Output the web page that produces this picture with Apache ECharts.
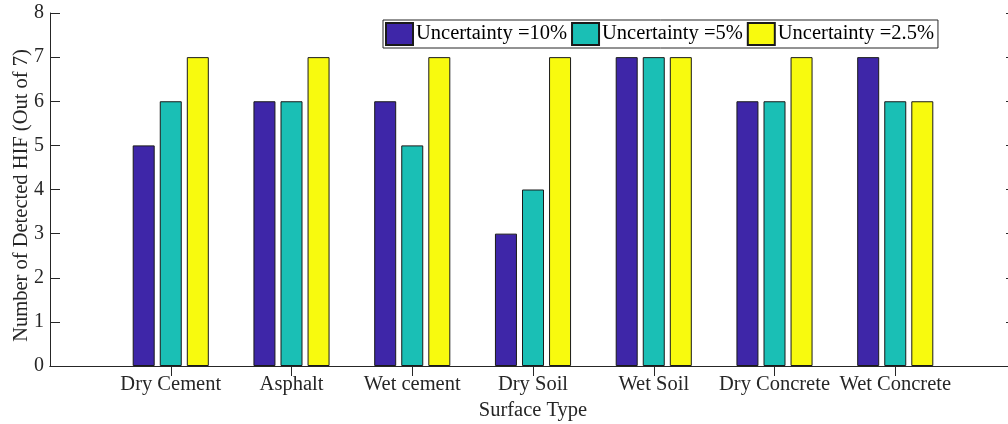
<!DOCTYPE html>
<html>
<head>
<meta charset="utf-8">
<script src="https://cdn.jsdelivr.net/npm/echarts@6/dist/echarts.min.js"></script>
<style>
html,body{margin:0;padding:0;background:#fff;}
#c{width:1008px;height:424px;}
</style>
</head>
<body>
<div id="c"></div>
<script>
const categories = ['Dry Cement','Asphalt','Wet cement','Dry Soil','Wet Soil','Dry Concrete','Wet Concrete'];
const seriesNames = ['Uncertainty =10%','Uncertainty =5%','Uncertainty =2.5%'];
const unc10 = [5,6,6,3,7,6,7];
const unc5  = [6,6,5,4,7,6,6];
const unc25 = [7,7,7,7,7,7,6];
const yTicks = [0,1,2,3,4,5,6,7,8];
const colors = ['#3E26A8','#1ABFB5','#F8FA0E'];

const FONT = '"Liberation Serif","Times New Roman",serif';
const AX = '#262626';
const cats = [''].concat(categories, ['']);
const pad = arr => [null].concat(arr, [null]);
const tickFilter = (i, v) => v !== '';

const chart = echarts.init(document.getElementById('c'), null, {renderer:'canvas'});
const mkSeries = (name, data, color) => ({
  name, type:'bar', data: pad(data), barWidth:22, barGap:'23%',
  itemStyle:{color, borderColor:'#1a1a1a', borderWidth:1},
  emphasis:{disabled:true}, animation:false
});
chart.setOption({
  animation:false,
  textStyle:{fontFamily:FONT},
  grid:{left:50, top:13, width:966, height:353, containLabel:false, outerBoundsMode:'none'},
  legend:{
    data: seriesNames, left:383, top:20, orient:'horizontal', icon:'rect',
    itemWidth:27, itemHeight:22, itemGap:4, padding:[2,4,2,2],
    borderColor:AX, borderWidth:1, backgroundColor:'#fff',
    textStyle:{fontFamily:FONT, fontSize:20.5, color:'#000', padding:[0,0,0,-2]},
    selectedMode:false
  },
  xAxis:[{
    type:'category', data:cats, boundaryGap:false, position:'bottom',
    axisLine:{lineStyle:{color:AX, width:1}},
    axisTick:{inside:true, length:10, interval:tickFilter, lineStyle:{color:AX}},
    axisLabel:{fontFamily:FONT, fontSize:20.5, color:AX, margin:8, interval:0},
    splitLine:{show:false},
    name:'Surface Type', nameLocation:'middle', nameGap:34, nameMoveOverlap:false,
    nameTextStyle:{fontFamily:FONT, fontSize:20.5, color:AX}
  },{
    type:'category', data:cats, boundaryGap:false, position:'top',
    axisLine:{lineStyle:{color:AX, width:1}},
    axisTick:{inside:true, length:10, interval:tickFilter, lineStyle:{color:AX}},
    axisLabel:{show:false}, splitLine:{show:false}
  }],
  yAxis:[{
    type:'value', min:0, max:8, interval:1, position:'left',
    axisLine:{show:true, lineStyle:{color:AX, width:1}},
    axisTick:{show:true, inside:true, length:10, lineStyle:{color:AX}},
    axisLabel:{fontFamily:FONT, fontSize:20, color:AX, margin:6,
      formatter: v => yTicks.includes(v) ? String(v) : ''},
    splitLine:{show:false},
    name:'Number of Detected HIF (Out of 7)', nameLocation:'middle', nameGap:18, nameRotate:90,
    nameMoveOverlap:false,
    nameTextStyle:{fontFamily:FONT, fontSize:20.5, color:AX, padding:[0,12,0,0]}
  },{
    type:'value', min:0, max:8, interval:1, position:'right',
    axisLine:{show:true, lineStyle:{color:AX, width:1}},
    axisTick:{show:true, inside:true, length:10, lineStyle:{color:AX}},
    axisLabel:{show:false}, splitLine:{show:false}
  }],
  series:[
    mkSeries(seriesNames[0], unc10, colors[0]),
    mkSeries(seriesNames[1], unc5, colors[1]),
    mkSeries(seriesNames[2], unc25, colors[2])
  ]
});
</script>
</body>
</html>
